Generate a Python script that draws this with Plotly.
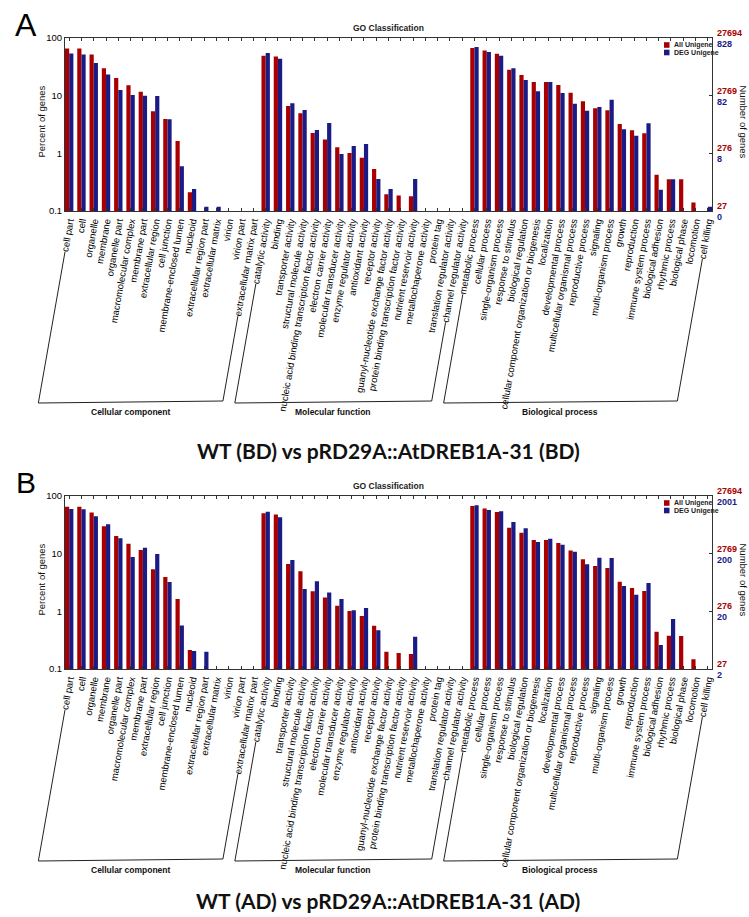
import math
import plotly.graph_objects as go

# ---------------- data ----------------
CC = ["cell part", "cell", "organelle", "membrane", "organelle part", "macromolecular complex",
      "membrane part", "extracellular region", "cell junction", "membrane-enclosed lumen",
      "nucleoid", "extracellular region part", "extracellular matrix", "virion", "virion part",
      "extracellular matrix part"]
MF = ["catalytic activity", "binding", "transporter activity", "structural molecule activity",
      "nucleic acid binding transcription factor activity", "electron carrier activity",
      "molecular transducer activity", "enzyme regulator activity", "antioxidant activity",
      "receptor activity", "guanyl-nucleotide exchange factor activity",
      "protein binding transcription factor activity", "nutrient reservoir activity",
      "metallochaperone activity", "protein tag", "translation regulator activity",
      "channel regulator activity"]
BP = ["metabolic process", "cellular process", "single-organism process", "response to stimulus",
      "biological regulation", "cellular component organization or biogenesis", "localization",
      "developmental process", "multicellular organismal process", "reproductive process",
      "signaling", "multi-organism process", "growth", "reproduction", "immune system process",
      "biological adhesion", "rhythmic process", "biological phase", "locomotion", "cell killing"]
GROUPS = ["Cellular component", "Molecular function", "Biological process"]

# percent of genes
ALL_A = [66, 66, 52, 29.8, 20.2, 15.1, 11.7, 5.35, 3.94, 1.64, 0.211, None, None, None, None, None,
         49.3, 48, 6.62, 4.94, 2.25, 1.73, 1.27, 1.01, 0.84, 0.535, 0.195, 0.185, 0.18, None, None, None, None,
         67, 61, 53.5, 28.2, 22.8, 17.3, 17.3, 15.3, 11.2, 7.98, 6.04, 5.57, 3.23, 2.51, 2.22, 0.427, 0.354, 0.354, 0.141, None]
DEG_A = [54, 52, 37, 23.4, 12.5, 10.3, 10.0, 9.9, 3.9, 0.60, 0.24, 0.119, 0.119, None, None, None,
         55, 43.7, 7.37, 5.64, 2.54, 3.36, 0.97, 1.34, 1.45, 0.359, 0.24, None, 0.359, None, None, None, None,
         69.8, 57, 49.3, 29.8, 18.7, 11.9, 17.3, 11.1, 7.27, 5.49, 6.36, 8.5, 2.61, 2.02, 3.32, 0.234, 0.354, None, None, 0.119]
ALL_B = [65.3, 65.3, 52, 29.8, 20.2, 14.9, 11.6, 5.35, 3.94, 1.64, 0.213, None, None, None, None, None,
         50.1, 48, 6.62, 4.94, 2.22, 1.73, 1.25, 1.01, 0.83, 0.563, 0.2, 0.19, 0.182, None, None, None, None,
         67, 61, 52.8, 28.2, 23.1, 17.3, 17.3, 15.3, 11.4, 7.98, 6.11, 5.64, 3.27, 2.54, 2.25, 0.443, 0.378, 0.375, 0.147, None]
DEG_B = [59.5, 58.7, 44.5, 32.3, 18.5, 8.75, 12.7, 9.87, 3.23, 0.57, 0.205, 0.2, None, None, None, None,
         53.5, 42.7, 7.76, 2.44, 3.31, 2.13, 1.64, 1.04, 1.14, 0.469, None, None, 0.364, None, None, None, None,
         68.9, 57.2, 54.2, 35.4, 27.5, 15.9, 18.2, 14.3, 10.8, 6.53, 8.5, 8.41, 2.75, 1.94, 3.1, 0.26, 0.736, None, None, None]

Y_TICKS = [0.1, 1, 10, 100]
Y_TICKTEXT = ["0.1", "1", "10", "100"]
RIGHT_ALL = ["27", "276", "2769", "27694"]
RIGHT_DEG_A = ["0", "8", "82", "828"]
RIGHT_DEG_B = ["2", "20", "200", "2001"]
TITLE_A = "WT (BD) vs pRD29A::AtDREB1A-31 (BD)"
TITLE_B = "WT (AD) vs pRD29A::AtDREB1A-31 (AD)"

CATS = CC + MF + BP
RED = "#a80000"
BLUE = "#1b1b86"
FONT = "Liberation Sans, Arial, sans-serif"

# ---------------- geometry ----------------
W, H = 749, 917
ML, MR, MT, MB = 65, 37, 38, 248
PW = W - ML - MR
PH = H - MT - MB
XR = [-0.34, len(CATS) - 1 + 0.34]
UNIT = PW / (XR[1] - XR[0])
A_TOP, A_BOT = 38, 211
B_TOP, B_BOT = 496, 669


def py(ypx):
    return (H - MB - ypx) / PH


def pxp(xpx):
    return (xpx - ML) / PW


def cat_px(i):
    return ML + (i - XR[0]) * UNIT


WIDTHS = {'i': .222, 'j': .222, 'l': .222, 'f': .278, 't': .278, ' ': .278, 'r': .333, '-': .333,
          'm': .833, 'w': .722, 'c': .5, 'k': .5, 's': .5, 'v': .5, 'x': .5, 'y': .5, 'z': .5}
TICK_SIZE = 9.5


def text_len(s, size=TICK_SIZE):
    return sum(WIDTHS.get(ch, .556) for ch in s) * size


fig = go.Figure()
panels = [("x", "y", ALL_A, DEG_A), ("x2", "y2", ALL_B, DEG_B)]
for xa, ya, allv, degv in panels:
    fig.add_trace(go.Bar(x=CATS, y=allv, name="All Unigene", marker_color=RED,
                         marker_line_width=0, xaxis=xa, yaxis=ya, showlegend=False))
    fig.add_trace(go.Bar(x=CATS, y=degv, name="DEG Unigene", marker_color=BLUE,
                         marker_line_width=0, xaxis=xa, yaxis=ya, showlegend=False))

xcommon = dict(range=XR, tickangle=-80, tickfont=dict(family=FONT, size=TICK_SIZE, color="#000"),
               ticks="inside", ticklen=3, tickcolor="#333", showline=True, linecolor="#333",
               linewidth=1, mirror="ticks", showgrid=False, zeroline=False, automargin=False,
               type="category")
ycommon = dict(type="log", range=[-1, 2], tickvals=Y_TICKS, ticktext=Y_TICKTEXT,
               tickfont=dict(family=FONT, size=9.5, color="#000"), ticks="inside", ticklen=3,
               tickcolor="#333", showline=True, linecolor="#333", linewidth=1, mirror="ticks",
               showgrid=False, zeroline=False, automargin=False)

fig.update_layout(
    width=W, height=H, margin=dict(l=ML, r=MR, t=MT, b=MB),
    paper_bgcolor="white", plot_bgcolor="white",
    barmode="group", bargap=0.316, bargroupgap=0,
    xaxis=dict(domain=[0, 1], anchor="y", **xcommon),
    yaxis=dict(domain=[py(A_BOT), py(A_TOP)], anchor="x", **ycommon),
    xaxis2=dict(domain=[0, 1], anchor="y2", **xcommon),
    yaxis2=dict(domain=[py(B_BOT), py(B_TOP)], anchor="x2", **ycommon),
    showlegend=False,
)

shapes = []
ann = []
cot80 = 1 / math.tan(math.radians(80))
cos80, sin80 = math.cos(math.radians(80)), math.sin(math.radians(80))

group_ranges = [(0, len(CC) - 1), (len(CC), len(CC) + len(MF) - 1),
                (len(CC) + len(MF), len(CATS) - 1)]


def note(text, x, y, size, color="#111", family=FONT, angle=0, xanchor="center", **kw):
    d = dict(text=text, xref="paper", yref="paper", x=x, y=y, showarrow=False,
             xanchor=xanchor, yanchor="middle", textangle=angle,
             font=dict(family=family, size=size, color=color))
    d.update(kw)
    ann.append(d)


for (ya, bot, top, degtxt, title, letter, lsize, title_y) in [
        ("y", A_BOT, A_TOP, RIGHT_DEG_A, TITLE_A, "A", 32, 450),
        ("y2", B_BOT, B_TOP, RIGHT_DEG_B, TITLE_B, "B", 30, 900)]:
    # group brackets
    ybl = bot + 192
    ybr = bot + 190
    for g, (a, b) in enumerate(group_ranges):
        pts = []
        for i, yb in ((a, ybl), (b, ybr)):
            x0 = cat_px(i) + 2.5
            d = text_len(CATS[i]) + 5
            tx, ty = x0 - d * cos80, bot + 3 + d * sin80
            bx = x0 - (yb - bot - 3) * cot80
            shapes.append(dict(type="line", xref="paper", yref="paper",
                               x0=pxp(tx), y0=py(ty), x1=pxp(bx), y1=py(yb),
                               line=dict(color="#222", width=1)))
            pts.append((bx, yb))
        shapes.append(dict(type="line", xref="paper", yref="paper",
                           x0=pxp(pts[0][0]), y0=py(pts[0][1]), x1=pxp(pts[1][0]), y1=py(pts[1][1]),
                           line=dict(color="#222", width=1)))
        note("<b>%s</b>" % GROUPS[g], pxp((pts[0][0] + pts[1][0]) / 2), py(bot + 201), 8.5)
    # right axis numbers (counts)
    for k, v in enumerate(Y_TICKS):
        ann.append(dict(text="<b>%s</b>" % RIGHT_ALL[k], xref="paper", yref=ya, x=1, y=math.log10(v),
                        xshift=3, yshift=5, xanchor="left", yanchor="middle", showarrow=False,
                        font=dict(family=FONT, size=9, color=RED)))
        ann.append(dict(text="<b>%s</b>" % degtxt[k], xref="paper", yref=ya, x=1, y=math.log10(v),
                        xshift=3, yshift=-6, xanchor="left", yanchor="middle", showarrow=False,
                        font=dict(family=FONT, size=9, color=BLUE)))
    mid = (top + bot) / 2 - 3
    note("Percent of genes", pxp(41), py(mid), 9.5, angle=-90)
    note("Number of genes", pxp(743), py(mid), 9.5, angle=90)
    note("<b>GO Classification</b>", 0.5, py(top - 10), 8.5, color="#222")
    # legend
    for j, (nm, col) in enumerate([("All Unigene", RED), ("DEG Unigene", BLUE)]):
        yc = top + 7 + j * 7.5
        shapes.append(dict(type="rect", xref="paper", yref="paper", x0=pxp(664), x1=pxp(669.5),
                           y0=py(yc - 2.8), y1=py(yc + 2.8), fillcolor=col, line=dict(width=0)))
        note("<b>%s</b>" % nm, pxp(671.5), py(yc), 7, color="#222", xanchor="left")
    # big title and panel letter
    note("<b>%s</b>" % title, pxp(388), py(title_y), 21, color="#111",
         family="Lato, Open Sans, sans-serif")
    note(letter, pxp(26), py(top - 13), lsize, color="#000")

fig.update_layout(shapes=shapes, annotations=ann)
fig.write_html("out.html", config={"displayModeBar": False},
               post_script="document.body.style.margin='0';document.body.style.overflow='hidden';")
